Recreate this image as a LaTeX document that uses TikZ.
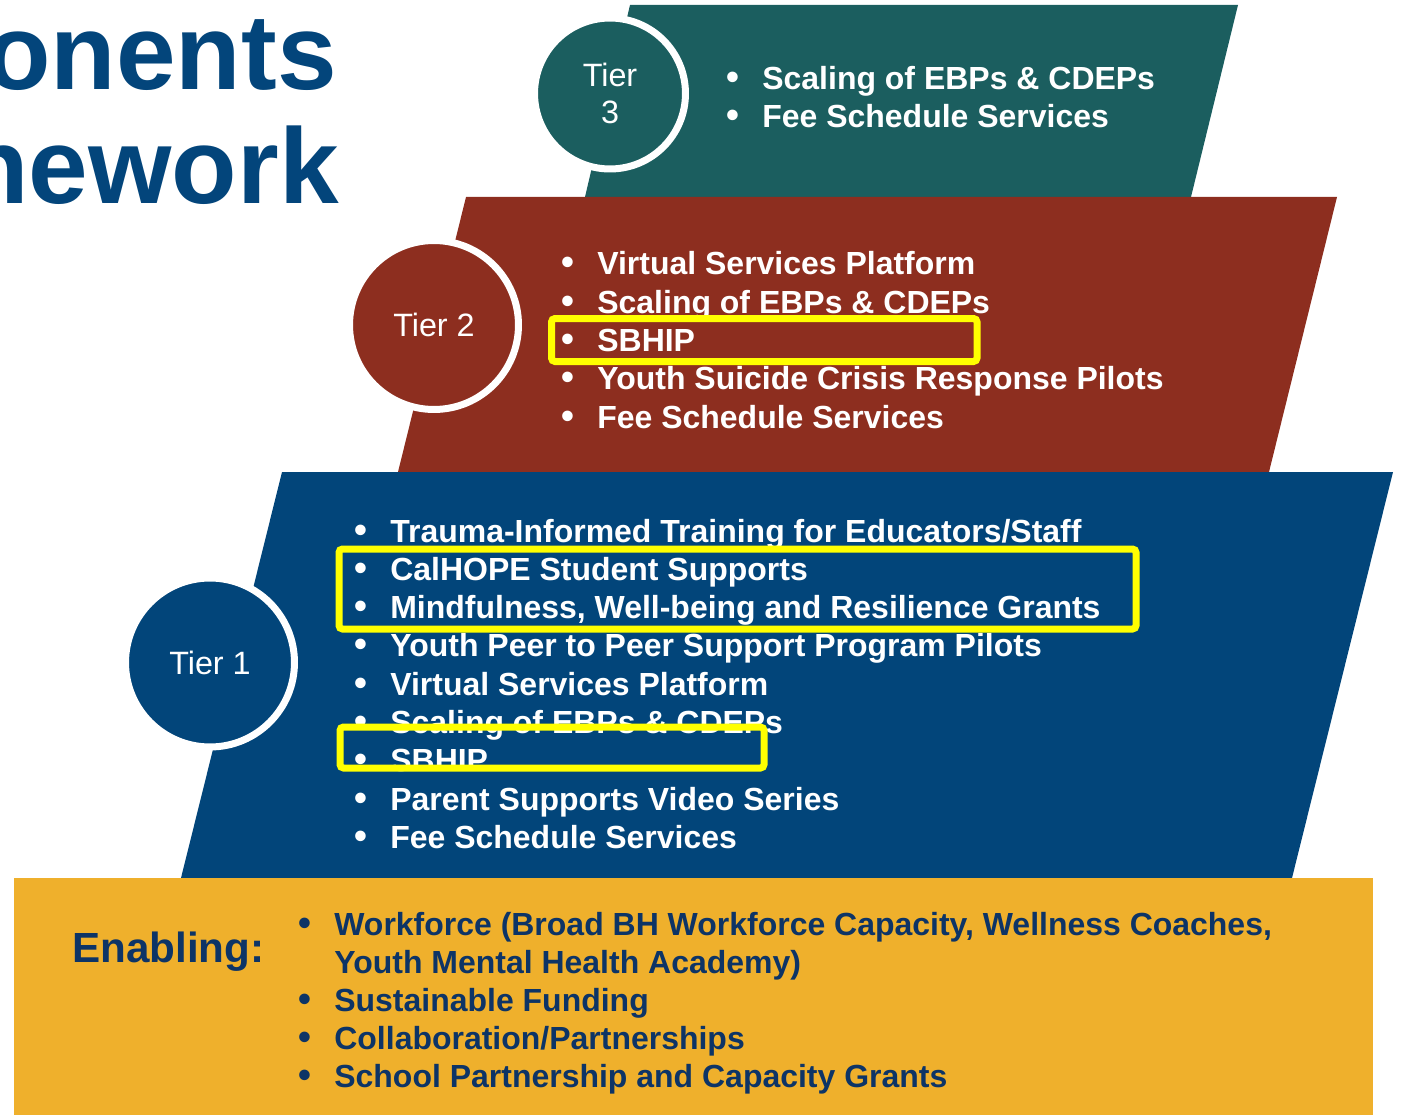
\documentclass[tikz,border=0pt]{standalone}
\usepackage{fontspec}
\setmainfont{Liberation Sans}
\usepackage{xcolor}
\usepackage{tikz}

\definecolor{titleblue}{HTML}{03457B}
\definecolor{tierteal}{HTML}{1B5E5F}
\definecolor{tierred}{HTML}{8D2E1F}
\definecolor{tierblue}{HTML}{02457A}
\definecolor{enablegold}{HTML}{EFB02C}
\definecolor{enablenavy}{HTML}{0D3466}
\definecolor{hiliteyellow}{HTML}{FFFF00}

\begin{document}
\begin{tikzpicture}[x=0.02cm, y=-0.02cm,
    tiercircle/.style={circle, draw=white, line width=0.14cm, text=white,
        align=center, inner sep=0, font=\fontsize{18.4}{21}\selectfont},
    item/.style={anchor=base west, inner sep=0, text=white,
        font=\bfseries\fontsize{18.2}{21.8}\selectfont,
        execute at begin node={\llap{\scalebox{1.15}{\textbullet}\hspace{0.46cm}}}},
    enitem/.style={item, text=enablenavy},
    encont/.style={anchor=base west, inner sep=0, text=enablenavy,
        font=\bfseries\fontsize{18.2}{21.8}\selectfont},
    hilite/.style={draw=hiliteyellow, line width=0.14cm, rounded corners=2pt}]

    \useasboundingbox (0,0) rectangle (1404,1115);

    % Title, cut off at the left edge
    \node[anchor=base east, inner sep=0, text=titleblue,
        font=\bfseries\fontsize{61}{61}\selectfont] (title1) at (337,90) {onents};
    \node[anchor=base east, inner sep=0, text=titleblue,
        font=\bfseries\fontsize{61}{61}\selectfont] (title2) at (339,204) {nework};

    % Draw the tiers
    \fill[tierteal] (630,5) -- (1238,5) -- (1191,197) -- (585,197) -- cycle;
    \fill[tierred] (466,197) -- (1337,197) -- (1269,472) -- (398,472) -- cycle;
    \fill[tierblue] (282,472) -- (1393,472) -- (1292,878) -- (181,878) -- cycle;
    \fill[enablegold] (14,878) rectangle (1373,1115);

    % Tier circles
    \node[tiercircle, fill=tierteal, minimum size=3.02cm] (c3) at (610,93.5) {Tier\\3};
    \node[tiercircle, fill=tierred, minimum size=3.38cm] (c2) at (434,325) {Tier 2};
    \node[tiercircle, fill=tierblue, minimum size=3.38cm] (c1) at (210,662.5) {Tier 1};

    % Tier 3 list
    \foreach \txt [count=\i from 0] in {Scaling of EBPs \& CDEPs, Fee Schedule Services}
        \node[item] (t3-\i) at (762,90+38*\i) {\txt};

    % Tier 2 list
    \foreach \txt [count=\i from 0] in {Virtual Services Platform,
        Scaling of EBPs \& CDEPs, SBHIP, Youth Suicide Crisis Response Pilots,
        Fee Schedule Services}
        \node[item] (t2-\i) at (597,275+38.3*\i) {\txt};

    % Tier 1 list
    \foreach \txt [count=\i from 0] in {Trauma-Informed Training for Educators/Staff,
        CalHOPE Student Supports, {Mindfulness, Well-being and Resilience Grants},
        Youth Peer to Peer Support Program Pilots, Virtual Services Platform,
        Scaling of EBPs \& CDEPs, SBHIP, Parent Supports Video Series,
        Fee Schedule Services}
        \node[item] (t1-\i) at (390,542+38.3*\i) {\txt};

    % Enabling
    \node[anchor=base west, inner sep=0, text=enablenavy,
        font=\bfseries\fontsize{24}{24}\selectfont] (enab) at (72,962) {Enabling:};
    \node[enitem] (en-0) at (334,935) {Workforce (Broad BH Workforce Capacity, Wellness Coaches,};
    \node[encont] (en-0b) at (334,973) {Youth Mental Health Academy)};
    \foreach \txt [count=\i] in {Sustainable Funding, Collaboration/Partnerships,
        School Partnership and Capacity Grants}
        \node[enitem] (en-\i) at (334,973+38*\i) {\txt};

    % Highlight boxes
    \draw[hilite] (551.5,318.5) rectangle (977,361.5);
    \draw[hilite] (339,549) rectangle (1136,629);
    \draw[hilite] (340,727) rectangle (764,768);
\end{tikzpicture}
\end{document}
